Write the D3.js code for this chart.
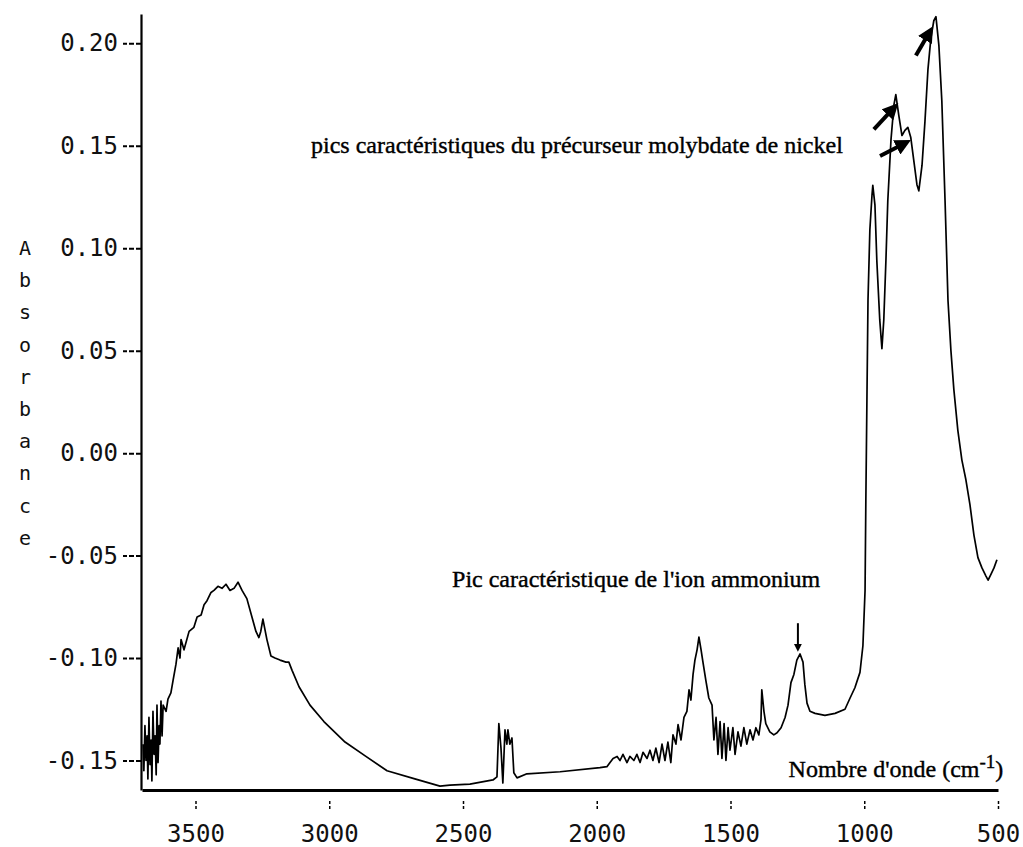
<!DOCTYPE html>
<html>
<head>
<meta charset="utf-8">
<script src="https://cdn.jsdelivr.net/npm/d3@7"></script>
<style>
  body { margin: 0; background: #fff; }
</style>
</head>
<body>
<div id="plot"></div>
<script>
var width = 1023, height = 847;

var spectrum = [
  [3696,-0.142],[3693,-0.155],[3689,-0.133],[3685,-0.150],[3681,-0.138],[3678,-0.159],[3674,-0.129],
  [3670,-0.152],[3666,-0.140],[3663,-0.160],[3659,-0.126],[3655,-0.147],[3651,-0.138],[3647,-0.157],
  [3644,-0.123],[3640,-0.151],[3636,-0.133],[3633,-0.142],[3629,-0.121],[3625,-0.138],[3621,-0.123],
  [3610,-0.126],[3603,-0.120],[3592,-0.117],[3584,-0.111],[3573,-0.103],[3565,-0.095],[3558,-0.100],
  [3554,-0.091],[3543,-0.096],[3524,-0.087],[3506,-0.085],[3494,-0.080],[3479,-0.079],[3468,-0.074],
  [3457,-0.072],[3442,-0.068],[3431,-0.067],[3416,-0.065],[3401,-0.066],[3386,-0.064],[3371,-0.067],
  [3356,-0.066],[3341,-0.063],[3326,-0.067],[3308,-0.071],[3289,-0.080],[3274,-0.087],[3263,-0.090],
  [3256,-0.087],[3248,-0.081],[3233,-0.091],[3218,-0.099],[3203,-0.100],[3184,-0.101],[3162,-0.102],
  [3151,-0.102],[3139,-0.106],[3113,-0.114],[3072,-0.123],[3020,-0.131],[2941,-0.141],[2863,-0.148],
  [2784,-0.155],[2680,-0.159],[2586,-0.1625],[2549,-0.162],[2474,-0.1615],[2388,-0.1595],[2373,-0.158],
  [2366,-0.132],[2358,-0.144],[2351,-0.161],[2343,-0.135],[2336,-0.142],[2332,-0.135],[2325,-0.142],
  [2317,-0.139],[2310,-0.156],[2298,-0.1585],[2261,-0.1565],[2137,-0.1555],[1988,-0.1535],[1962,-0.153],
  [1939,-0.149],[1924,-0.148],[1913,-0.150],[1902,-0.147],[1887,-0.151],[1876,-0.148],[1861,-0.150],
  [1850,-0.147],[1838,-0.151],[1827,-0.146],[1812,-0.149],[1801,-0.145],[1790,-0.150],[1779,-0.144],
  [1767,-0.151],[1756,-0.142],[1745,-0.150],[1734,-0.141],[1723,-0.151],[1715,-0.1375],[1704,-0.142],
  [1696,-0.1325],[1685,-0.140],[1674,-0.129],[1663,-0.126],[1655,-0.1155],[1648,-0.1205],[1640,-0.108],
  [1633,-0.101],[1625,-0.096],[1618,-0.0898],[1610,-0.096],[1603,-0.102],[1592,-0.111],[1581,-0.1195],
  [1569,-0.123],[1562,-0.140],[1554,-0.129],[1547,-0.147],[1539,-0.131],[1532,-0.149],[1524,-0.132],
  [1517,-0.150],[1509,-0.134],[1502,-0.145],[1491,-0.134],[1483,-0.147],[1472,-0.136],[1461,-0.143],
  [1450,-0.134],[1439,-0.142],[1427,-0.135],[1416,-0.140],[1405,-0.134],[1394,-0.1375],[1386,-0.130],
  [1383,-0.1155],[1375,-0.126],[1368,-0.132],[1353,-0.136],[1338,-0.1375],[1326,-0.1365],[1311,-0.134],
  [1296,-0.129],[1285,-0.123],[1274,-0.112],[1263,-0.108],[1252,-0.101],[1240,-0.098],[1229,-0.102],
  [1222,-0.113],[1214,-0.122],[1203,-0.126],[1184,-0.127],[1147,-0.128],[1109,-0.127],[1072,-0.125],
  [1053,-0.1195],[1035,-0.1145],[1016,-0.107],[1005,-0.094],[997,-0.067],[994,-0.023],[990,0.026],
  [986,0.0746],[979,0.109],[971,0.126],[968,0.1307],[960,0.121],[953,0.094],[942,0.065],[934,0.051],
  [927,0.065],[919,0.094],[912,0.123],[900,0.153],[889,0.170],[882,0.175],[871,0.165],[859,0.155],
  [848,0.1575],[837,0.159],[826,0.154],[815,0.143],[803,0.131],[796,0.128],[784,0.1405],[773,0.162],
  [762,0.187],[751,0.2024],[740,0.211],[732,0.213],[721,0.199],[710,0.172],[698,0.1234],[687,0.0746],
  [676,0.050],[665,0.031],[650,0.011],[635,-0.0034],[620,-0.013],[605,-0.025],[590,-0.040],[575,-0.051],
  [560,-0.056],[545,-0.060],[537,-0.062],[526,-0.059],[515,-0.056],[504,-0.052]
];

var xTicks = [3500, 3000, 2500, 2000, 1500, 1000, 500];
var yTicks = [0.20, 0.15, 0.10, 0.05, 0.00, -0.05, -0.10, -0.15];
var yTitle = "Absorbance";

// annotation texts, placed in data units
var notes = [
  {text: "pics caractéristiques du précurseur molybdate de nickel", w: 3068, a: 0.1465},
  {text: "Pic caractéristique de l'ion ammonium", w: 2541, a: -0.0654}
];
// arrows [from w, from a, to w, to a, thickness]
var arrows = [
  [1248, -0.083, 1248, -0.095, 2],
  [807, 0.194, 758, 0.205, 4],
  [964, 0.158, 893, 0.168, 4],
  [941, 0.145, 852, 0.151, 4]
];

var x = d3.scaleLinear().domain([3700, 500]).range([142, 998]);
var y = d3.scaleLinear().domain([-0.1644, 0.2143]).range([790, 14]);

var svg = d3.select("#plot").append("svg")
    .attr("width", width)
    .attr("height", height)
    .style("background", "#fff");

svg.append("defs").append("marker")
    .attr("id", "head")
    .attr("viewBox", "0 0 10 10")
    .attr("refX", 5).attr("refY", 5)
    .attr("markerWidth", 4).attr("markerHeight", 4)
    .attr("markerUnits", "strokeWidth")
    .attr("orient", "auto")
  .append("path")
    .attr("d", "M0,0 L10,5 L0,10 z")
    .attr("fill", "#000");

var monoFont = "'DejaVu Sans Mono', monospace";
var serifFont = "'Liberation Serif', 'DejaVu Serif', serif";

// y axis
var yAxis = svg.append("g")
    .attr("transform", "translate(141,0)")
    .call(d3.axisLeft(y).tickValues(yTicks).tickSize(18).tickSizeOuter(0).tickPadding(5)
        .tickFormat(function(d) { return d.toFixed(2); }));
yAxis.select(".domain").attr("stroke-width", 2.2);
yAxis.selectAll(".tick line").attr("stroke-width", 2).attr("stroke-dasharray", "5,2");
yAxis.selectAll(".tick text")
    .attr("font-family", monoFont)
    .attr("font-size", "24px")
    .attr("fill", "#111");

// x axis
var xAxis = svg.append("g")
    .attr("transform", "translate(0,790)")
    .call(d3.axisBottom(x).tickValues(xTicks).tickSize(22).tickSizeOuter(0).tickPadding(13)
        .tickFormat(d3.format("d")));
xAxis.select(".domain").attr("stroke-width", 2.8);
xAxis.selectAll(".tick line").attr("stroke-width", 1.5).attr("stroke-dasharray", "0,11,3,2,3,20");
xAxis.selectAll(".tick text")
    .attr("font-family", monoFont)
    .attr("font-size", "24px")
    .attr("fill", "#111");

// stacked y title
svg.append("g").selectAll("text")
    .data(yTitle.split(""))
    .enter()
    .append("text")
    .attr("x", 25)
    .attr("y", function(d, i) { return 255 + i * 32.2; })
    .attr("text-anchor", "middle")
    .attr("font-family", monoFont)
    .attr("font-size", "20px")
    .attr("fill", "#111")
    .text(function(d) { return d; });

// spectrum
var line = d3.line()
    .x(function(d) { return x(d[0]); })
    .y(function(d) { return y(d[1]); });

svg.append("path")
    .datum(spectrum)
    .attr("d", line)
    .attr("fill", "none")
    .attr("stroke", "#000")
    .attr("stroke-width", 1.7)
    .attr("stroke-linejoin", "round");

// notes
svg.selectAll("text.note")
    .data(notes)
    .enter()
    .append("text")
    .attr("class", "note")
    .attr("x", function(d) { return x(d.w); })
    .attr("y", function(d) { return y(d.a); })
    .attr("font-family", serifFont)
    .attr("font-size", "24px")
    .attr("fill", "#000")
    .attr("stroke", "#000")
    .attr("stroke-width", 0.4)
    .text(function(d) { return d.text; });

// x title with superscript
var xt = svg.append("text")
    .attr("x", x(480))
    .attr("y", y(-0.158))
    .attr("text-anchor", "end")
    .attr("font-family", serifFont)
    .attr("font-size", "24px")
    .attr("fill", "#000")
    .attr("stroke", "#000")
    .attr("stroke-width", 0.4);
xt.append("tspan").text("Nombre d'onde (cm");
xt.append("tspan").attr("dy", -9).attr("font-size", "19px").text("-1");
xt.append("tspan").attr("dy", 9).text(")");

// arrows
svg.selectAll("line.arrow")
    .data(arrows)
    .enter()
    .append("line")
    .attr("class", "arrow")
    .attr("x1", function(d) { return x(d[0]); })
    .attr("y1", function(d) { return y(d[1]); })
    .attr("x2", function(d) { return x(d[2]); })
    .attr("y2", function(d) { return y(d[3]); })
    .attr("stroke", "#000")
    .attr("stroke-width", function(d) { return d[4]; })
    .attr("marker-end", "url(#head)");
</script>
</body>
</html>
